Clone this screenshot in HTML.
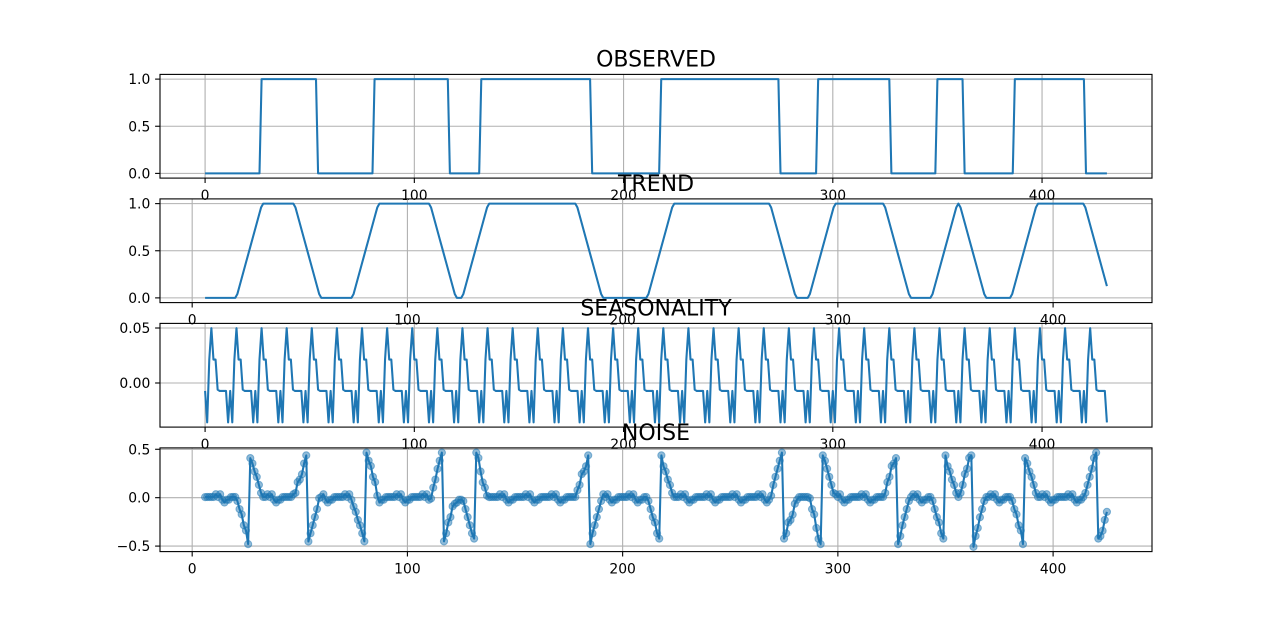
<!DOCTYPE html>
<html><head><meta charset="utf-8"><style>
html,body{margin:0;padding:0;background:#fff;width:1280px;height:620px;overflow:hidden}
svg text{font-family:"DejaVu Sans","Liberation Sans",sans-serif}
</style></head><body>
<svg id="fig" width="1280" height="620" xmlns="http://www.w3.org/2000/svg"></svg>
<script>
// Observed binary signal: length and index ranges where value is 1
const seriesLength = [432];
const highStarts = [27, 81, 132, 218, 293, 350, 387];
const highEnds   = [53, 116, 184, 274, 327, 362, 420];
const period = [12];
const xTicks = [0, 100, 200, 300, 400];
const obsYTicks = [0, 0.5, 1.0];
const obsYLabels = ["0.0", "0.5", "1.0"];
const trendYTicks = [0, 0.5, 1.0];
const trendYLabels = ["0.0", "0.5", "1.0"];
const seasYTicks = [0, 0.05];
const seasYLabels = ["0.00", "0.05"];
const noiseYTicks = [-0.5, 0, 0.5];
const noiseYLabels = ["\u22120.5", "0.0", "0.5"];
const titles = ["OBSERVED", "TREND", "SEASONALITY", "NOISE"];

const N = seriesLength[0], P = period[0], H = P / 2;
const obs = [];
for (let i = 0; i < N; i++) {
  let v = 0;
  for (let k = 0; k < highStarts.length; k++) if (i >= highStarts[k] && i <= highEnds[k]) v = 1;
  obs.push(v);
}
// centered moving average (2x12)
const trend = new Array(N).fill(null);
for (let t = H; t < N - H; t++) {
  let s = 0.5 * obs[t - H] + 0.5 * obs[t + H];
  for (let j = t - H + 1; j <= t + H - 1; j++) s += obs[j];
  trend[t] = s / P;
}
const phaseSum = new Array(P).fill(0), phaseCnt = new Array(P).fill(0);
for (let t = 0; t < N; t++) if (trend[t] !== null) { phaseSum[t % P] += obs[t] - trend[t]; phaseCnt[t % P]++; }
const phaseMean = phaseSum.map((s, i) => s / phaseCnt[i]);
const pm = phaseMean.reduce((a, b) => a + b, 0) / P;
const seas = [];
for (let t = 0; t < N; t++) seas.push(phaseMean[t % P] - pm);
const resid = new Array(N).fill(null);
for (let t = 0; t < N; t++) if (trend[t] !== null) resid[t] = obs[t] - trend[t] - seas[t];

const NS = "http://www.w3.org/2000/svg";
const svg = document.getElementById('fig');
function el(tag, attrs, parent) {
  const e = document.createElementNS(NS, tag);
  for (const k in attrs) e.setAttribute(k, attrs[k]);
  (parent || svg).appendChild(e);
  return e;
}
const L = 160, R = 1152, AH = 103.7;
const tops = [74.4, 198.9, 323.4, 447.9];
const names = ["observed", "trend", "seasonality", "noise"];
const datas = [obs, trend, seas, resid];
const yTickSets = [obsYTicks, trendYTicks, seasYTicks, noiseYTicks];
const yLabelSets = [obsYLabels, trendYLabels, seasYLabels, noiseYLabels];

for (let p = 0; p < 4; p++) {
  const d = datas[p], top = tops[p], bot = top + AH;
  const pts = [];
  d.forEach((v, i) => { if (v !== null) pts.push([i, v]); });
  const xmin0 = pts[0][0], xmax0 = pts[pts.length - 1][0];
  let ymin0 = Infinity, ymax0 = -Infinity;
  pts.forEach(q => { ymin0 = Math.min(ymin0, q[1]); ymax0 = Math.max(ymax0, q[1]); });
  const xm = (xmax0 - xmin0) * 0.05, ym = (ymax0 - ymin0) * 0.05;
  const x0 = xmin0 - xm, x1 = xmax0 + xm, y0 = ymin0 - ym, y1 = ymax0 + ym;
  const sx = v => L + (v - x0) / (x1 - x0) * (R - L);
  const sy = v => bot - (v - y0) / (y1 - y0) * AH;

  const g = el('g', {});
  
  
  const cid = 'clip' + p;
  const cp = el('clipPath', { id: cid }, g);
  el('rect', { x: L, y: top, width: R - L, height: AH }, cp);

  const grid = el('g', { stroke: '#b0b0b0', 'stroke-width': 1.1, 'clip-path': 'url(#' + cid + ')' }, g);
  
  
  xTicks.forEach(t => { const X = sx(t); el('line', { x1: X, x2: X, y1: top, y2: bot }, grid); });
  yTickSets[p].forEach(t => { const Y = sy(t); if (Y >= top && Y <= bot) el('line', { x1: L, x2: R, y1: Y, y2: Y }, grid); });

  let dstr = '';
  pts.forEach((q, i) => { dstr += (i ? 'L' : 'M') + sx(q[0]).toFixed(2) + ' ' + sy(q[1]).toFixed(2); });
  const line = el('path', { d: dstr, fill: 'none', stroke: '#1f77b4', 'stroke-width': 2.08, 'stroke-linejoin': 'round', 'clip-path': 'url(#' + cid + ')' }, g);
  
  

  if (p === 3) {
    const mg = el('g', { fill: '#1f77b4', 'fill-opacity': 0.5, stroke: '#1f77b4', 'stroke-opacity': 0.5, 'stroke-width': 1 }, g);
    
    
    pts.forEach(q => {
      const c = el('circle', { cx: sx(q[0]).toFixed(2), cy: sy(q[1]).toFixed(2), r: 3.6 }, mg);
      
      
    });
  }

  const frame = el('rect', { x: L, y: top, width: R - L, height: AH, fill: 'none', stroke: '#000', 'stroke-width': 1.1 }, g);
  
  

  const xt = el('g', {}, g);
  
  
  xTicks.forEach(t => {
    const X = sx(t);
    el('line', { x1: X, x2: X, y1: bot, y2: bot + 4.9, stroke: '#000', 'stroke-width': 1.1 }, xt);
    const tx = el('text', { x: X, y: bot + 22, 'font-size': 13.9, 'text-anchor': 'middle', fill: '#000' }, xt);
    tx.textContent = String(t);
  });
  const yt = el('g', {}, g);
  
  
  yTickSets[p].forEach((t, i) => {
    const Y = sy(t);
    if (Y < top - 1 || Y > bot + 1) return;
    el('line', { x1: L - 4.9, x2: L, y1: Y, y2: Y, stroke: '#000', 'stroke-width': 1.1 }, yt);
    const tx = el('text', { x: L - 9.7, y: Y + 5, 'font-size': 13.9, 'text-anchor': 'end', fill: '#000' }, yt);
    tx.textContent = yLabelSets[p][i];
  });
  const title = el('text', { x: (L + R) / 2, y: top - 8, 'font-size': 22, 'text-anchor': 'middle', fill: '#000' }, g);
  
  
  title.textContent = titles[p];
}
</script>
</body></html>
